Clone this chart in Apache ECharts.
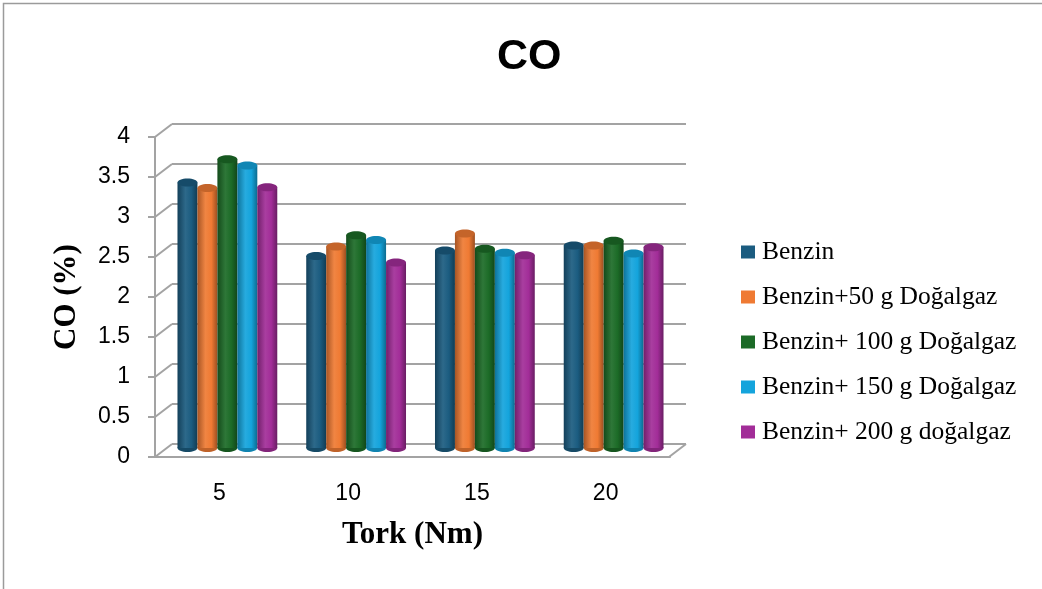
<!DOCTYPE html>
<html>
<head>
<meta charset="utf-8">
<script src="https://cdn.jsdelivr.net/npm/echarts@6/dist/echarts.min.js"></script>
<style>html,body{margin:0;padding:0;background:#fff;}#c{width:1042px;height:589px;}</style>
</head>
<body>
<div id="c"></div>
<script>
const categories = ['5', '10', '15', '20'];
const seriesNames = ['Benzin', 'Benzin+50 g Doğalgaz', 'Benzin+ 100 g Doğalgaz', 'Benzin+ 150 g Doğalgaz', 'Benzin+ 200 g doğalgaz'];
const benzin = [3.32, 2.40, 2.47, 2.53];
const benzin50 = [3.25, 2.52, 2.68, 2.53];
const benzin100 = [3.61, 2.66, 2.49, 2.59];
const benzin150 = [3.53, 2.60, 2.44, 2.43];
const benzin200 = [3.26, 2.32, 2.41, 2.51];
const yTicks = [0, 0.5, 1, 1.5, 2, 2.5, 3, 3.5, 4];
const colors = ['#1b5c80', '#ef7a33', '#1c6b27', '#14a4dc', '#a22d98'];

const allValues = [benzin, benzin50, benzin100, benzin150, benzin200];

function shade(hex, f) {
  const n = parseInt(hex.slice(1), 16);
  let r = (n >> 16) & 255, g = (n >> 8) & 255, b = n & 255;
  if (f < 0) { r = r * (1 + f); g = g * (1 + f); b = b * (1 + f); }
  else { r = r + (255 - r) * f; g = g + (255 - g) * f; b = b + (255 - b) * f; }
  return 'rgb(' + Math.round(r) + ',' + Math.round(g) + ',' + Math.round(b) + ')';
}

function makeRender(idx, color) {
  return function (params, api) {
    const cat = api.value(0), v = api.value(1);
    const top = api.coord([cat, v]);
    const base = api.coord([cat, 0]);
    const band = api.size([1, 0])[0];
    const w = band * 0.155;
    const cx = top[0] + (idx - 2) * w;
    const ry = 4;
    const grad = {
      type: 'linear', x: 0, y: 0, x2: 1, y2: 0,
      colorStops: [
        { offset: 0, color: shade(color, -0.3) },
        { offset: 0.4, color: shade(color, 0.08) },
        { offset: 0.7, color: color },
        { offset: 1, color: shade(color, -0.35) }
      ]
    };
    return {
      type: 'group',
      children: [
        { type: 'ellipse', shape: { cx: cx, cy: base[1], rx: w / 2, ry: ry }, style: { fill: shade(color, -0.2) } },
        { type: 'rect', shape: { x: cx - w / 2, y: top[1], width: w, height: base[1] - top[1] }, style: { fill: grad } },
        { type: 'ellipse', shape: { cx: cx, cy: top[1], rx: w / 2, ry: ry }, style: { fill: shade(color, -0.18) } }
      ]
    };
  };
}

const gridColor = '#a3a3a3';

const series = seriesNames.map(function (name, i) {
  return {
    name: name,
    type: 'custom',
    xAxisIndex: 2, yAxisIndex: 2,
    itemStyle: { color: colors[i] },
    renderItem: makeRender(i, colors[i]),
    encode: { x: 0, y: 1 },
    data: allValues[i].map(function (v, j) { return [j, v]; }),
    z: 5
  };
});

// perspective connectors from the front axis ticks to the back wall
series.push({
  type: 'custom',
  xAxisIndex: 0, yAxisIndex: 0,
  silent: true,
  renderItem: function (params, api) {
    const p = api.coord([api.value(0), api.value(1)]);
    return {
      type: 'line',
      shape: { x1: p[0] - 17, y1: p[1] + 13, x2: p[0], y2: p[1] },
      style: { stroke: gridColor, lineWidth: 2 }
    };
  },
  data: yTicks.map(function (t) { return [0, t]; }).concat([[1, 0]]),
  z: 1
});

const chart = echarts.init(document.getElementById('c'));
chart.setOption({
  animation: false,
  color: colors,
  title: {
    text: 'CO', left: 492, top: 31,
    textStyle: { fontFamily: 'Liberation Sans', fontWeight: 'bold', fontSize: 43, color: '#000' }
  },
  legend: {
    orient: 'vertical', left: 736, top: 234,
    icon: 'rect', itemWidth: 14, itemHeight: 13, itemGap: 19,
    data: seriesNames,
    textStyle: { fontFamily: 'Liberation Serif', fontSize: 25.5, color: '#000', lineHeight: 26, padding: [0, 0, 0, 2] }
  },
  graphic: [{
    type: 'rect', shape: { x: 3.5, y: 3.5, width: 1200, height: 800 },
    style: { fill: 'none', stroke: '#9b9b9b', lineWidth: 1.5 }, silent: true
  }],
  grid: [
    { left: 172, right: 356, top: 124, height: 320 },
    { left: 155, right: 372, top: 137, height: 320 },
    { left: 163, right: 364, top: 128, height: 320 }
  ],
  xAxis: [
    { gridIndex: 0, type: 'value', min: 0, max: 1, show: false },
    {
      gridIndex: 1, type: 'category', data: categories,
      axisLine: { show: true, lineStyle: { color: gridColor, width: 2 } },
      axisTick: { show: false },
      axisLabel: { fontFamily: 'Liberation Sans', fontSize: 23, color: '#000', margin: 25 },
      name: 'Tork (Nm)', nameLocation: 'middle', nameGap: 62,
      nameTextStyle: { fontFamily: 'Liberation Serif', fontWeight: 'bold', fontSize: 31, color: '#000' }
    },
    { gridIndex: 2, type: 'category', data: categories, show: false }
  ],
  yAxis: [
    {
      gridIndex: 0, type: 'value', min: 0, max: 4, interval: 0.5,
      axisLine: { show: false }, axisTick: { show: false }, axisLabel: { show: false },
      splitLine: { show: true, lineStyle: { color: gridColor, width: 2 } }
    },
    {
      gridIndex: 1, type: 'value', min: 0, max: 4, interval: 0.5,
      axisLine: { show: true, lineStyle: { color: gridColor, width: 2 } },
      axisTick: { show: true, length: 7, lineStyle: { color: gridColor, width: 2 } },
      axisLabel: { fontFamily: 'Liberation Sans', fontSize: 23, color: '#000', margin: 25 },
      splitLine: { show: false },
      name: 'CO (%)', nameLocation: 'middle', nameGap: 73, nameRotate: 90,
      nameTextStyle: { fontFamily: 'Liberation Serif', fontWeight: 'bold', fontSize: 31, color: '#000' }
    },
    { gridIndex: 2, type: 'value', min: 0, max: 4, interval: 0.5, show: false }
  ],
  series: series
});
</script>
</body>
</html>
